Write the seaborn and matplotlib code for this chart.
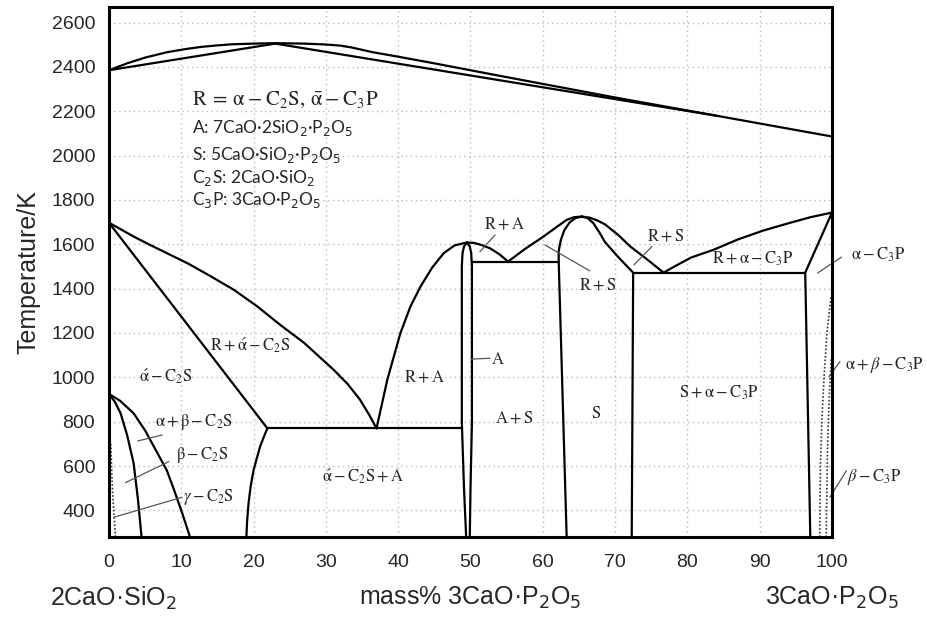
import matplotlib
matplotlib.use("Agg")
import matplotlib.pyplot as plt
import seaborn as sns

# ---- phase boundaries (x = mass% 3CaO.P2O5, T = K) ----
liq_top_x = [0, 2.5, 5, 8, 10.5, 12.7, 15, 17, 20, 23, 27, 30, 32, 33.5, 35, 36.5, 40, 45, 54, 70, 84, 100]
liq_top_t = [2385, 2416, 2442, 2466, 2480, 2490, 2497, 2502, 2505, 2507, 2505, 2501, 2496, 2488,
             2477, 2466, 2446, 2416, 2360, 2262, 2180, 2086]
sol_top_x = [0, 23, 54, 84]
sol_top_t = [2385, 2505, 2340, 2180]

liq_c2s_x = [0, 1.5, 3.4, 5.5, 8.0, 11, 14, 17.3, 20.5, 23.7, 27, 31.1, 33, 34.7, 36, 37.0]
liq_c2s_t = [1697, 1670, 1635, 1600, 1560, 1512, 1457, 1394, 1320, 1236, 1155, 1033, 970, 900, 830, 770]
sol_c2s_x = [0, 21.9]
sol_c2s_t = [1697, 770]
eut_770_x = [21.9, 48.8]
eut_770_t = [770, 770]
low_c2s_x = [21.9, 21.4, 20.9, 20.4, 20.0, 19.6, 19.3, 19.1, 19.0]
low_c2s_t = [770, 730, 688, 630, 582, 510, 432, 350, 280]

ab_inner_x = [0, 0.8, 1.6, 2.5, 3.4, 4.0, 4.5]
ab_inner_t = [925, 890, 838, 740, 613, 450, 280]
ab_outer_x = [0, 1.5, 3.4, 5.0, 6.7, 8.0, 9.0, 10.2, 11.2]
ab_outer_t = [925, 895, 838, 760, 658, 580, 492, 380, 280]
gamma_x = [0.25, 0.4, 0.6, 0.9]
gamma_t = [700, 550, 420, 280]

liq_a_left_x = [37.0, 38.5, 40.3, 41.7, 43.1, 44.7, 46.3, 47.8, 49.5]
liq_a_left_t = [770, 990, 1199, 1320, 1410, 1495, 1560, 1595, 1608]
liq_a_right_x = [49.5, 50.5, 51.5, 52.7, 54.0, 55.2]
liq_a_right_t = [1608, 1606, 1597, 1582, 1555, 1522]
a_left_x = [49.5, 49.1, 48.9, 48.8, 48.8, 49.1, 49.4]
a_left_t = [1608, 1590, 1560, 1500, 800, 500, 280]
a_right_x = [49.5, 49.9, 50.1, 50.2, 50.2, 50.0, 49.9]
a_right_t = [1608, 1590, 1560, 1500, 800, 500, 280]
eut_1520_x = [50.2, 62.2]
eut_1520_t = [1522, 1522]

liq_s_left_x = [55.2, 57.5, 60.1, 62.0, 63.3, 64.3, 65.4]
liq_s_left_t = [1522, 1578, 1635, 1680, 1710, 1722, 1725]
s_left_x = [63.3, 62.2, 62.2, 62.5, 63.0, 63.7, 64.5, 65.4]
s_left_t = [280, 1522, 1570, 1620, 1665, 1698, 1718, 1725]
s_right_x = [65.4, 66.2, 67.0, 67.8, 68.6, 70.5, 72.5, 72.3]
s_right_t = [1725, 1718, 1695, 1655, 1610, 1540, 1472, 280]
liq_s_right_x = [65.4, 66.5, 67.5, 68.6, 70.5, 72.1, 74.5, 76.7]
liq_s_right_t = [1725, 1720, 1708, 1690, 1640, 1590, 1530, 1472]
eut_1470_x = [72.5, 96.3]
eut_1470_t = [1472, 1472]

liq_c3p_x = [76.7, 78.5, 80.5, 83.6, 87.0, 90.5, 94.0, 97.0, 100]
liq_c3p_t = [1472, 1505, 1540, 1575, 1622, 1662, 1695, 1722, 1743]
c3p_sol_x = [100, 96.3, 97.0]
c3p_sol_t = [1743, 1472, 280]
c3p_dot1_x = [99.85, 99.3, 98.9, 98.6, 98.4, 98.3]
c3p_dot1_t = [1360, 1200, 1000, 800, 600, 280]
c3p_dot2_x = [99.9, 99.6, 99.4, 99.3, 99.2]
c3p_dot2_t = [1080, 900, 700, 500, 280]

solid_curves = [
    (liq_top_x, liq_top_t), (sol_top_x, sol_top_t),
    (liq_c2s_x, liq_c2s_t), (sol_c2s_x, sol_c2s_t), (eut_770_x, eut_770_t),
    (low_c2s_x, low_c2s_t), (ab_inner_x, ab_inner_t), (ab_outer_x, ab_outer_t),
    (liq_a_left_x, liq_a_left_t), (liq_a_right_x, liq_a_right_t),
    (a_left_x, a_left_t), (a_right_x, a_right_t), (eut_1520_x, eut_1520_t),
    (liq_s_left_x, liq_s_left_t), (s_left_x, s_left_t), (s_right_x, s_right_t),
    (liq_s_right_x, liq_s_right_t), (eut_1470_x, eut_1470_t),
    (liq_c3p_x, liq_c3p_t), (c3p_sol_x, c3p_sol_t),
]
dotted_curves = [(gamma_x, gamma_t), (c3p_dot1_x, c3p_dot1_t), (c3p_dot2_x, c3p_dot2_t)]

# ---- label leader lines ----
leaders = [
    ([3.98, 7.35], [713, 740]),
    ([2.28, 8.27], [525, 620]),
    ([0.66, 10.1], [369, 459]),
    ([51.3, 53.4], [1567, 1642]),
    ([60.3, 66.5], [1597, 1480]),
    ([72.6, 75.1], [1507, 1590]),
    ([50.06, 52.7], [1082, 1086]),
    ([98.0, 101.3], [1470, 1542]),
    ([99.6, 101.1], [1003, 1071]),
    ([99.7, 102.0], [459, 579]),
]

# ---- region labels (centre x, centre T, text) ----
region_labels = [
    (19.6, 1146, r"$\mathrm{R} + \acute{\mathrm{\alpha}} - \mathrm{C_2S}$"),
    (7.8, 1003, r"$\acute{\mathrm{\alpha}} - \mathrm{C_2S}$"),
    (11.7, 800, r"$\mathrm{\alpha} + \mathrm{\beta} - \mathrm{C_2S}$"),
    (12.9, 650, r"$\mathrm{\beta} - \mathrm{C_2S}$"),
    (13.8, 459, r"$\gamma - \mathrm{C_2S}$"),
    (35.2, 552, r"$\acute{\mathrm{\alpha}} - \mathrm{C_2S} + \mathrm{A}$"),
    (43.7, 1000, r"$\mathrm{R} + \mathrm{A}$"),
    (53.8, 1082, r"$\mathrm{A}$"),
    (56.0, 816, r"$\mathrm{A} + \mathrm{S}$"),
    (67.3, 838, r"$\mathrm{S}$"),
    (84.3, 928, r"$\mathrm{S} + \mathrm{\alpha} - \mathrm{C_3P}$"),
    (54.7, 1691, r"$\mathrm{R} + \mathrm{A}$"),
    (67.6, 1417, r"$\mathrm{R} + \mathrm{S}$"),
    (77.0, 1635, r"$\mathrm{R} + \mathrm{S}$"),
    (89.1, 1534, r"$\mathrm{R} + \mathrm{\alpha} - \mathrm{C_3P}$"),
]
side_labels = [
    (102.6, 1552, r"$\mathrm{\alpha} - \mathrm{C_3P}$"),
    (101.8, 1056, r"$\mathrm{\alpha} + \beta - \mathrm{C_3P}$"),
    (102.1, 552, r"$\beta - \mathrm{C_3P}$"),
]
key_title = r"$\mathrm{R}\:=\:\mathrm{\alpha}\:-\:\mathrm{C_2S},\,\bar{\mathrm{\alpha}}\:-\:\mathrm{C_3P}$"
key_lines = [
    "A: 7CaO·2SiO$_2$·P$_2$O$_5$",
    "S: 5CaO·SiO$_2$·P$_2$O$_5$",
    "C$_2$S: 2CaO·SiO$_2$",
    "C$_3$P: 3CaO·P$_2$O$_5$",
]
key_t = [2125, 2003, 1898, 1800]

x_ticks = list(range(0, 101, 10))
y_ticks = list(range(400, 2601, 200))

sns.set_theme(style="white")
plt.rcParams["font.family"] = ["Liberation Sans", "DejaVu Sans"]

fig = plt.figure(figsize=(9.27, 6.22), dpi=100)
ax = fig.add_axes([0.1176, 0.1367, 0.7799, 0.852])

for cx, ct in solid_curves:
    sns.lineplot(x=cx, y=ct, sort=False, estimator=None, color="black",
                 linewidth=1.6, ax=ax)
for cx, ct in dotted_curves:
    sns.lineplot(x=cx, y=ct, sort=False, estimator=None, color="#333333",
                 linewidth=1.2, linestyle=(0, (1, 1.2)), ax=ax)
for lx, lt in leaders:
    ax.plot(lx, lt, color="#555555", linewidth=0.9, clip_on=False)

for x, t, s in region_labels:
    ax.text(x, t, s, ha="center", va="center", fontsize=12, math_fontfamily="stix")
for x, t, s in side_labels:
    ax.text(x, t, s, ha="left", va="center", fontsize=12, math_fontfamily="stix")

ax.text(11.5, 2250, key_title, ha="left", va="center", fontsize=15, math_fontfamily="stix")
for s, t in zip(key_lines, key_t):
    ax.text(11.5, t, s, ha="left", va="center", fontsize=12.5,
            family=["Lato", "DejaVu Sans"], math_fontfamily="dejavusans")

ax.set_xlim(0, 100)
ax.set_ylim(280, 2670)
ax.set_xticks(x_ticks)
ax.set_yticks(y_ticks)
ax.set_xlabel("")
ax.set_ylabel("Temperature/K", fontsize=18, labelpad=8)
ax.tick_params(axis="x", direction="in", length=7, width=1.6, color="black",
               labelsize=14, pad=12)
ax.tick_params(axis="y", length=0, labelsize=14, pad=10)
ax.grid(True, color="#bbbbbb", linestyle=(0, (1, 2.5)), linewidth=1.0)
for sp in ax.spines.values():
    sp.set_color("black")
    sp.set_linewidth(2.2)

fig.text(50 / 927, 1 - 598 / 622, "2CaO·SiO$_2$", ha="left", va="center",
         fontsize=18, math_fontfamily="dejavusans")
fig.text(470 / 927, 1 - 598 / 622, "mass% 3CaO·P$_2$O$_5$", ha="center", va="center",
         fontsize=18, math_fontfamily="dejavusans")
fig.text(765 / 927, 1 - 598 / 622, "3CaO·P$_2$O$_5$", ha="left", va="center",
         fontsize=18, math_fontfamily="dejavusans")

fig.savefig("out.png", dpi=100)
